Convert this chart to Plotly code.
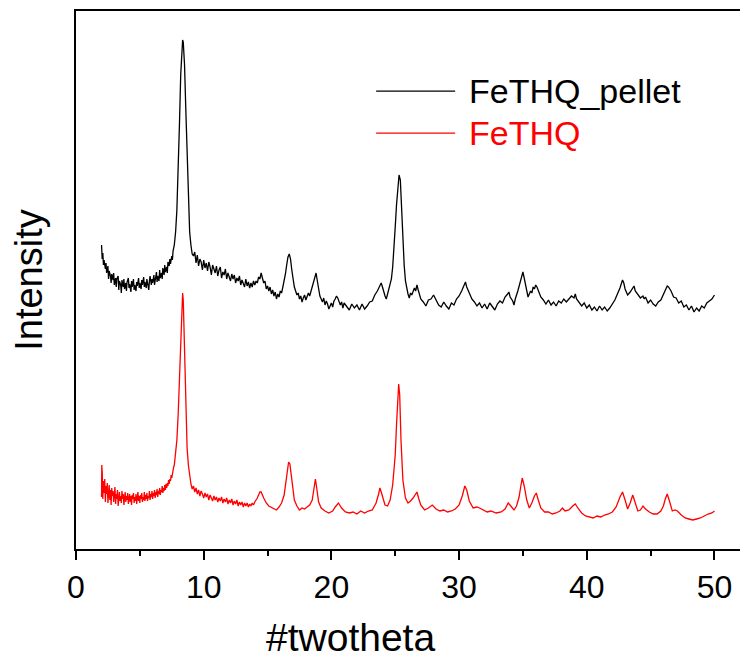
import plotly.graph_objects as go

# ---- data: (2-theta in degrees, intensity in arbitrary units) ----
pellet_points = [
    (2.0, 304), (2.05, 290), (2.1, 296), (2.15, 284), (2.2, 289), (2.3, 280), (2.35, 286), (2.4, 276),
    (2.5, 283), (2.55, 270), (2.6, 278), (2.7, 273), (2.75, 266), (2.8, 275), (2.9, 269), (2.95, 276),
    (3.0, 264), (3.1, 271), (3.15, 262), (3.2, 270), (3.3, 273), (3.35, 259), (3.4, 268), (3.5, 264),
    (3.55, 256), (3.6, 269), (3.7, 262), (3.75, 270), (3.8, 260), (3.9, 266), (3.95, 258), (4.0, 267),
    (4.1, 271), (4.15, 261), (4.2, 265), (4.3, 257), (4.35, 268), (4.4, 262), (4.5, 270), (4.55, 259),
    (4.6, 264), (4.7, 258), (4.75, 267), (4.8, 263), (4.9, 271), (4.95, 261), (5.0, 266), (5.1, 260),
    (5.15, 269), (5.2, 264), (5.3, 272), (5.35, 262), (5.4, 267), (5.5, 261), (5.55, 270), (5.6, 265),
    (5.7, 259), (5.75, 268), (5.8, 273), (5.9, 264), (5.95, 270), (6.0, 266), (6.1, 274), (6.15, 264),
    (6.2, 270), (6.3, 277), (6.35, 267), (6.4, 273), (6.5, 268), (6.55, 279), (6.6, 271), (6.7, 276),
    (6.75, 270), (6.8, 281), (6.9, 274), (6.95, 284), (7.0, 277), (7.1, 282), (7.15, 276), (7.2, 287),
    (7.3, 283), (7.35, 290), (7.4, 285), (7.5, 293), (7.55, 289), (7.6, 298), (7.7, 304), (7.8, 317),
    (7.9, 339), (8.0, 374), (8.1, 424), (8.2, 474), (8.3, 504), (8.35, 509), (8.4, 507), (8.5, 484),
    (8.6, 439), (8.7, 389), (8.8, 344), (8.9, 317),
    (9.0, 304), (9.1, 295), (9.2, 293), (9.3, 297), (9.4, 286), (9.5, 294), (9.6, 283), (9.7, 290),
    (9.8, 287), (9.9, 279), (10.0, 289), (10.1, 281), (10.2, 286), (10.3, 278), (10.4, 287), (10.5, 282),
    (10.6, 274), (10.7, 284), (10.8, 280), (10.9, 276), (11.0, 283), (11.1, 273), (11.2, 279), (11.3, 282),
    (11.4, 271), (11.5, 277), (11.6, 274), (11.7, 280), (11.8, 270), (11.9, 276), (12.0, 272), (12.1, 268),
    (12.2, 275), (12.3, 270), (12.4, 274), (12.5, 266), (12.6, 271), (12.7, 268), (12.8, 273), (12.9, 264),
    (13.0, 269), (13.1, 266), (13.2, 262), (13.3, 270), (13.4, 263), (13.5, 267), (13.6, 261), (13.7, 266),
    (13.8, 262), (13.9, 268), (14.0, 264), (14.1, 268), (14.2, 266), (14.3, 272), (14.4, 270), (14.5, 276),
    (14.6, 271), (14.7, 266), (14.8, 268), (14.9, 260), (15.0, 263), (15.1, 258), (15.2, 262), (15.3, 255),
    (15.4, 259), (15.5, 253), (15.6, 257), (15.7, 250), (15.8, 255), (15.9, 252), (16.0, 258), (16.1, 256),
    (16.2, 262), (16.3, 268), (16.4, 275), (16.5, 284), (16.6, 292), (16.7, 295), (16.8, 290), (16.9, 279),
    (17.0, 270), (17.1, 262), (17.2, 258), (17.3, 254), (17.4, 256), (17.5, 250), (17.6, 253), (17.7, 247),
    (17.8, 251), (17.9, 254), (18.0, 249), (18.1, 252), (18.2, 256), (18.3, 253), (18.4, 258), (18.5, 262),
    (18.6, 268), (18.7, 273), (18.8, 276), (18.9, 268), (19.0, 260), (19.1, 253), (19.2, 250), (19.3, 247),
    (19.4, 251), (19.5, 244), (19.6, 248), (19.7, 245), (19.8, 240), (19.9, 244), (20.0, 246), (20.1, 242),
    (20.2, 248), (20.3, 250), (20.4, 253), (20.5, 251), (20.6, 248), (20.7, 244), (20.8, 247), (20.9, 241),
    (21.0, 246), (21.2, 243), (21.4, 239), (21.6, 245), (21.8, 241), (22.0, 244), (22.2, 239), (22.4, 245),
    (22.6, 240), (22.8, 243), (23.0, 247), (23.2, 248), (23.4, 254), (23.6, 258), (23.8, 264), (23.9, 266),
    (24.0, 262), (24.1, 256), (24.2, 253), (24.3, 250), (24.4, 255), (24.5, 258), (24.6, 262), (24.7, 270),
    (24.8, 282), (24.9, 299), (25.0, 322), (25.1, 344), (25.2, 362), (25.3, 374), (25.4, 369), (25.5, 334),
    (25.6, 305), (25.7, 284), (25.8, 268), (25.9, 259), (26.0, 255), (26.1, 251), (26.2, 256), (26.3, 254),
    (26.4, 259), (26.5, 261), (26.6, 258), (26.7, 264), (26.8, 259), (26.9, 254), (27.0, 250), (27.2, 247),
    (27.4, 243), (27.6, 249), (27.8, 250), (28.0, 254), (28.2, 249), (28.4, 244), (28.6, 242), (28.8, 247),
    (29.0, 243), (29.2, 240), (29.4, 246), (29.6, 244), (29.8, 250), (30.0, 253), (30.2, 258), (30.4, 265),
    (30.5, 267), (30.6, 262), (30.8, 256), (31.0, 250), (31.2, 247), (31.4, 243), (31.6, 246), (31.8, 241),
    (32.0, 245), (32.2, 240), (32.4, 246), (32.6, 242), (32.8, 239), (33.0, 245), (33.2, 248), (33.4, 246),
    (33.6, 252), (33.8, 255), (33.9, 257), (34.0, 252), (34.2, 248), (34.3, 244), (34.4, 250), (34.6, 258),
    (34.8, 268), (34.9, 274), (35.0, 277), (35.1, 271), (35.2, 265), (35.3, 256), (35.4, 252), (35.5, 255),
    (35.6, 258), (35.7, 256), (35.8, 262), (35.9, 260), (36.0, 264), (36.1, 262), (36.2, 258), (36.4, 252),
    (36.6, 249), (36.8, 245), (37.0, 249), (37.2, 244), (37.4, 247), (37.6, 243), (37.8, 248), (38.0, 246),
    (38.2, 250), (38.4, 247), (38.6, 250), (38.8, 253), (39.0, 251), (39.1, 255), (39.2, 250), (39.4, 247),
    (39.6, 243), (39.8, 246), (40.0, 241), (40.2, 244), (40.4, 239), (40.6, 242), (40.8, 238), (41.0, 243),
    (41.2, 239), (41.4, 242), (41.6, 238), (41.8, 241), (42.0, 245), (42.2, 249), (42.4, 255), (42.6, 261),
    (42.8, 269), (42.9, 266), (43.0, 260), (43.2, 254), (43.4, 257), (43.6, 262), (43.7, 263), (43.8, 258),
    (44.0, 254), (44.2, 251), (44.4, 253), (44.5, 250), (44.6, 252), (44.8, 246), (45.0, 249), (45.2, 245),
    (45.4, 243), (45.6, 247), (45.8, 249), (46.0, 254), (46.2, 259), (46.3, 263), (46.4, 262), (46.6, 258),
    (46.8, 252), (47.0, 251), (47.2, 246), (47.4, 248), (47.6, 242), (47.8, 244), (48.0, 239), (48.2, 243),
    (48.4, 237), (48.6, 241), (48.8, 238), (49.0, 243), (49.2, 241), (49.4, 246), (49.6, 248), (49.8, 250),
    (50.0, 254),
]

fethq_points = [
    (2.0, 52), (2.02, 84), (2.04, 60), (2.06, 75), (2.1, 50), (2.15, 68), (2.2, 56), (2.25, 70), (2.3, 47),
    (2.35, 63), (2.4, 55), (2.45, 66), (2.5, 46), (2.55, 58), (2.6, 64), (2.65, 49), (2.7, 59), (2.75, 44),
    (2.8, 61), (2.85, 53), (2.9, 58), (2.95, 47), (3.0, 56), (3.05, 62), (3.1, 45), (3.15, 55), (3.2, 50),
    (3.25, 59), (3.3, 43), (3.35, 54), (3.4, 57), (3.45, 48), (3.5, 53), (3.55, 46), (3.6, 58), (3.65, 50),
    (3.7, 55), (3.75, 44), (3.8, 52), (3.85, 57), (3.9, 47), (3.95, 53), (4.0, 49), (4.05, 56), (4.1, 45),
    (4.15, 52), (4.2, 55), (4.25, 47), (4.3, 53), (4.35, 44), (4.4, 54), (4.45, 50), (4.5, 56), (4.55, 46),
    (4.6, 52), (4.65, 48), (4.7, 55), (4.75, 45), (4.8, 51), (4.85, 57), (4.9, 48), (4.95, 53), (5.0, 46),
    (5.05, 54), (5.1, 50), (5.15, 56), (5.2, 47), (5.25, 52), (5.3, 49), (5.35, 57), (5.4, 48), (5.45, 54),
    (5.5, 50), (5.55, 56), (5.6, 48), (5.65, 53), (5.7, 51), (5.75, 58), (5.8, 49), (5.85, 55), (5.9, 52),
    (5.95, 58), (6.0, 50), (6.05, 56), (6.1, 53), (6.15, 59), (6.2, 51), (6.25, 57), (6.3, 54), (6.35, 60),
    (6.4, 52), (6.45, 58), (6.5, 55), (6.55, 61), (6.6, 54), (6.65, 59), (6.7, 57), (6.75, 63), (6.8, 56),
    (6.85, 61), (6.9, 58), (6.95, 64), (7.0, 59), (7.05, 65), (7.1, 61), (7.15, 66), (7.2, 63), (7.25, 69),
    (7.3, 65), (7.35, 70), (7.4, 68), (7.45, 74), (7.5, 71), (7.55, 77), (7.6, 76), (7.65, 82), (7.7, 84),
    (7.8, 94), (7.9, 109), (8.0, 134), (8.1, 174), (8.2, 219), (8.3, 251), (8.35, 256), (8.4, 249),
    (8.5, 199), (8.6, 139), (8.7, 101), (8.8, 84), (8.9, 73),
    (9.0, 65), (9.1, 60), (9.2, 63), (9.3, 57), (9.4, 61), (9.5, 55), (9.6, 59), (9.7, 53), (9.8, 58),
    (9.9, 55), (10.0, 51), (10.1, 56), (10.2, 52), (10.3, 55), (10.4, 49), (10.5, 54), (10.6, 51), (10.7, 48),
    (10.8, 53), (10.9, 49), (11.0, 52), (11.1, 47), (11.2, 51), (11.3, 48), (11.4, 52), (11.5, 46), (11.6, 50),
    (11.7, 47), (11.8, 51), (11.9, 45), (12.0, 49), (12.1, 46), (12.2, 50), (12.3, 44), (12.4, 48), (12.5, 45),
    (12.6, 49), (12.7, 43), (12.8, 47), (12.9, 44), (13.0, 47), (13.1, 42), (13.2, 46), (13.3, 43), (13.4, 46),
    (13.5, 42), (13.6, 45), (13.7, 43), (13.8, 46), (13.9, 44), (14.0, 47),
    (14.2, 51), (14.4, 57), (14.5, 57), (14.7, 51), (14.9, 46), (15.1, 43), (15.4, 41), (15.7, 39), (15.9, 42),
    (16.1, 46), (16.3, 54), (16.5, 71), (16.65, 87), (16.75, 85), (16.9, 67), (17.1, 49), (17.3, 43), (17.5, 39),
    (17.7, 41), (17.9, 40), (18.1, 42), (18.3, 44), (18.5, 49), (18.65, 64), (18.75, 70), (18.85, 61), (19.0, 47),
    (19.2, 41), (19.5, 38), (19.8, 36), (20.1, 38), (20.3, 42), (20.55, 46), (20.8, 41), (21.1, 37), (21.4, 36),
    (21.7, 37), (22.0, 35), (22.3, 38), (22.6, 36), (22.9, 38), (23.2, 39), (23.5, 46), (23.7, 55), (23.8, 61),
    (23.95, 55), (24.2, 44), (24.4, 43), (24.6, 49), (24.8, 64), (25.0, 94), (25.1, 124), (25.2, 154),
    (25.27, 165), (25.35, 154), (25.45, 109), (25.6, 69), (25.8, 51), (26.0, 46), (26.2, 48), (26.4, 51),
    (26.6, 56), (26.7, 57), (26.85, 50), (27.0, 44), (27.3, 39), (27.6, 41), (27.9, 44), (28.2, 40), (28.5, 38),
    (28.8, 39), (29.1, 37), (29.4, 38), (29.7, 40), (30.0, 44), (30.25, 53), (30.45, 63), (30.6, 59), (30.8, 48),
    (31.1, 41), (31.4, 42), (31.6, 41), (31.9, 39), (32.2, 37), (32.5, 38), (32.9, 36), (33.3, 37), (33.6, 40),
    (33.85, 46), (34.0, 44), (34.3, 39), (34.5, 43), (34.7, 52), (34.85, 64), (34.95, 71), (35.1, 63), (35.3, 49),
    (35.5, 41), (35.7, 46), (35.9, 53), (36.05, 56), (36.2, 49), (36.4, 41), (36.7, 37), (37.0, 37), (37.3, 35),
    (37.6, 36), (37.9, 38), (38.1, 41), (38.3, 38), (38.6, 39), (38.9, 43), (39.1, 45), (39.3, 41), (39.6, 36),
    (39.9, 33), (40.2, 32), (40.5, 31), (40.8, 33), (41.1, 32), (41.4, 34), (41.7, 35), (42.0, 37), (42.3, 42),
    (42.6, 52), (42.8, 57), (43.0, 49), (43.2, 40), (43.4, 46), (43.6, 54), (43.8, 46), (44.0, 38), (44.2, 39),
    (44.4, 43), (44.6, 40), (44.9, 37), (45.2, 35), (45.5, 35), (45.8, 38), (46.0, 43), (46.15, 50), (46.3, 55),
    (46.45, 49), (46.7, 38), (46.9, 39), (47.1, 38), (47.4, 34), (47.7, 31), (48.0, 30), (48.3, 29), (48.6, 30),
    (48.9, 31), (49.2, 33), (49.5, 35), (49.8, 36), (50.0, 38),
]

pellet_x = [p[0] for p in pellet_points]
pellet_y = [p[1] for p in pellet_points]
fethq_x = [p[0] for p in fethq_points]
fethq_y = [p[1] for p in fethq_points]

x_ticks = [0, 10, 20, 30, 40, 50]
series_names = ["FeTHQ_pellet", "FeTHQ"]
series_colors = ["#000000", "#ff0000"]

FONT = "Liberation Sans, Arial, sans-serif"

fig = go.Figure()
fig.add_trace(go.Scatter(x=pellet_x, y=pellet_y, mode="lines", name=series_names[0],
                         line=dict(color=series_colors[0], width=1.3), showlegend=False))
fig.add_trace(go.Scatter(x=fethq_x, y=fethq_y, mode="lines", name=series_names[1],
                         line=dict(color=series_colors[1], width=1.3), showlegend=False))

# legend drawn manually (long sample lines, coloured labels)
leg_y = [0.851, 0.773]
for name, col, yy in zip(series_names, series_colors, leg_y):
    fig.add_shape(type="line", xref="paper", yref="paper", x0=0.452, x1=0.571, y0=yy, y1=yy,
                  line=dict(color=col, width=1.3))
    fig.add_annotation(xref="paper", yref="paper", x=0.589, y=yy, text=name, showarrow=False,
                       xanchor="left", yanchor="middle", font=dict(family=FONT, size=34, color=col))

# x-axis title (off-centre as in the reference)
fig.add_annotation(xref="paper", yref="paper", x=0.414, y=-0.165, text="#twotheta", showarrow=False,
                   xanchor="center", yanchor="middle", font=dict(family=FONT, size=39, color="black"))

fig.update_layout(
    width=740, height=662,
    margin=dict(l=76, r=0, t=11, b=113),
    paper_bgcolor="white", plot_bgcolor="white",
    font=dict(family=FONT, color="black"),
    xaxis=dict(range=[0, 52], tickvals=x_ticks, ticks="outside", ticklen=9, tickwidth=2,
               tickcolor="black", showline=True, linecolor="black", linewidth=2, mirror=True,
               showgrid=False, zeroline=False, tickfont=dict(family=FONT, size=32, color="black"),
               minor=dict(dtick=5, ticks="outside", ticklen=5, tickwidth=2, tickcolor="black", showgrid=False)),
    yaxis=dict(range=[0, 538], showticklabels=False, ticks="", showline=True, linecolor="black",
               linewidth=2, mirror=False, showgrid=False, zeroline=False,
               title=dict(text="Intensity", font=dict(family=FONT, size=38, color="black"), standoff=20)),
)

fig.write_html("out.html")
